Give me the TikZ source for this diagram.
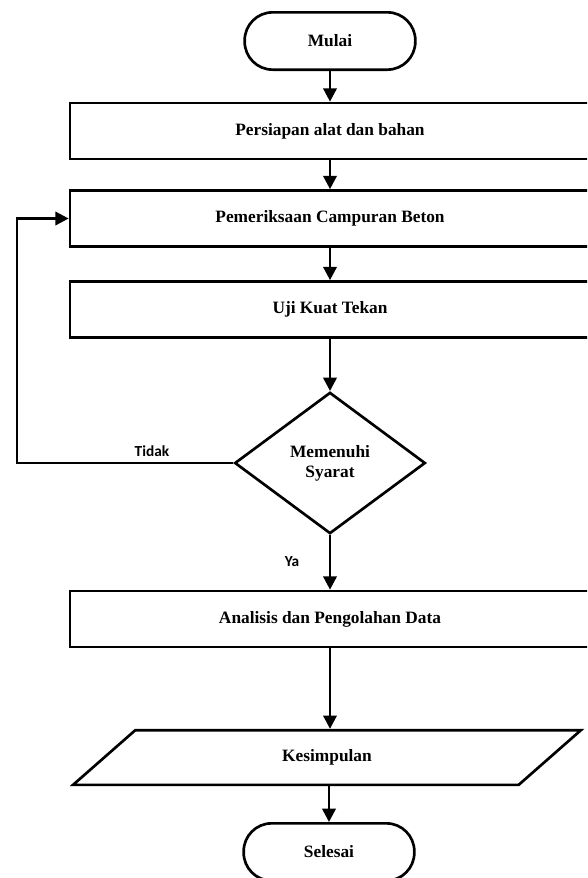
\documentclass[tikz,border=0pt]{standalone}
\usepackage{fontspec}
\setmainfont{Liberation Serif}
\newfontfamily\labelfont{Carlito}
\usepackage{tikz}
\usetikzlibrary{arrows.meta,shapes}
\usetikzlibrary{shapes.geometric}

\tikzset{
	terminal/.style={draw, line width=2pt, rounded corners=21pt, minimum width=128pt, minimum height=43pt, font=\fontsize{13}{15}\selectfont\bfseries},
	proses/.style={draw, line width=2pt, minimum width=390pt, minimum height=42pt, font=\fontsize{13}{15}\selectfont\bfseries},
	keputusan/.style={draw, diamond, line width=2pt, minimum width=143pt, minimum height=106pt, inner sep=0pt, align=center, font=\fontsize{13}{15}\selectfont\bfseries},
	keluaran/.style={draw, trapezium, trapezium left angle=57, trapezium right angle=123, trapezium stretches=true, line width=2pt, minimum width=382pt, minimum height=41pt, font=\fontsize{13}{15}\selectfont\bfseries},
	panah/.style={line width=2pt, -{Triangle[length=10pt,width=10pt]}},
	ket/.style={font=\labelfont\fontsize{11.5}{13}\selectfont\bfseries}
}

\begin{document}
\begin{tikzpicture}[x=0.75pt, y=-0.75pt]

% page
\clip (0,0) rectangle (587,878);

% nodes
\node[terminal] (mulai) at (330,41) {Mulai};
\node[proses] (persiapan) at (330,131) {Persiapan alat dan bahan};
\node[proses] (periksa) at (330,218.5) {Pemeriksaan Campuran Beton};
\node[proses] (uji) at (330,309.5) {Uji Kuat Tekan};
\node[keputusan] (syarat) at (330,463) {Memenuhi\\Syarat};
\node[proses] (analisis) at (330,619) {Analisis dan Pengolahan Data};
\node[keluaran] (kesimpulan) at (327,757.5) {Kesimpulan};
\node[terminal] (selesai) at (329,852) {Selesai};

% arrows
\draw[panah] (mulai) -- (persiapan);
\draw[panah] (persiapan) -- (periksa);
\draw[panah] (periksa) -- (uji);
\draw[panah] (uji) -- (syarat);
\draw[panah] (syarat) -- (analisis);
\draw[panah] (analisis) -- (kesimpulan.north -| analisis.south);
\draw[panah] (kesimpulan.south -| selesai.north) -- (selesai);

% loop back
\coordinate (kiri) at (17,463);
\draw[panah] (syarat.west) -- (kiri) |- (periksa.west);

% labels
\node[ket] (tidak) at (152,451) {Tidak};
\node[ket] (ya) at (292,562) {Ya};

\end{tikzpicture}
\end{document}
